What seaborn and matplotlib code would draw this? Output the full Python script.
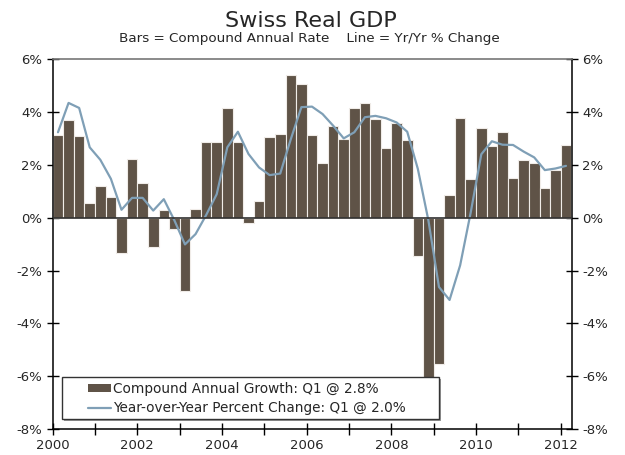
import numpy as np
import pandas as pd
import matplotlib
matplotlib.use("Agg")
import matplotlib.pyplot as plt
from matplotlib.patches import Rectangle, Patch
from matplotlib.lines import Line2D
import seaborn as sns

sns.set_theme(style="white")
plt.rcParams['font.family'] = ['DejaVu Sans']

# quarterly data, 2000 Q1 .. 2012 Q1
years = list(range(2000, 2013))
bar_vals = [3.14, 3.71, 3.08, 0.56,
            1.18, 0.77, -1.32, 2.22,
            1.32, -1.11, 0.28, -0.43,
            -2.76, 0.34, 2.86, 2.88,
            4.16, 2.85, -0.20, 0.63,
            3.06, 3.15, 5.41, 5.05,
            3.13, 2.05, 3.47, 2.96,
            4.15, 4.32, 3.73, 2.63,
            3.59, 2.94, -1.45, -6.30,
            -5.55, 0.86, 3.78, 1.47,
            3.39, 2.72, 3.25, 1.49,
            2.20, 2.08, 1.13, 1.82,
            2.75]
yoy_vals = [3.23, 4.34, 4.15, 2.66,
            2.19, 1.47, 0.30, 0.75,
            0.75, 0.27, 0.70, -0.10,
            -1.01, -0.62, 0.10, 0.89,
            2.66, 3.25, 2.41, 1.90,
            1.61, 1.67, 2.97, 4.18,
            4.20, 3.92, 3.48, 3.00,
            3.23, 3.80, 3.85, 3.76,
            3.60, 3.25, 1.85, -0.10,
            -2.62, -3.11, -1.80, 0.20,
            2.40, 2.89, 2.76, 2.75,
            2.50, 2.28, 1.80, 1.86,
            1.96]
y_ticks = [6, 4, 2, 0, -2, -4, -6, -8]

n = len(bar_vals)
quarter = np.array([2000 + i / 4 + 0.125 for i in range(n)])
df = pd.DataFrame({"t": quarter, "bars": bar_vals, "yoy": yoy_vals})

bar_color = "#5f5347"
line_color = "#7f9fb6"

fig = plt.figure(figsize=(6.25, 4.55), dpi=100)
ax = fig.add_axes([0.0843, 0.0565, 0.8304, 0.8138])

sns.barplot(data=df, x="t", y="bars", native_scale=True, width=1.0,
            color=bar_color, saturation=1, edgecolor="#f0ece8", linewidth=0.8,
            ax=ax, zorder=2)
sns.lineplot(data=df, x="t", y="yoy", color=line_color, linewidth=1.6,
             ax=ax, zorder=3)
ax.axhline(0, color="#303030", linewidth=1.2, zorder=4)

ax.set_xlim(2000, 2012.26)
ax.set_ylim(-8, 6)
ax.set_xlabel("")
ax.set_ylabel("")

ax.set_xticks(years)
ax.set_xticklabels([str(y) if (y % 2 == 0) else "" for y in years])
ax.set_yticks(y_ticks)
ax.set_yticklabels([f"{v}%" for v in y_ticks])
ax.yaxis.set_ticks_position("both")
ax.xaxis.set_ticks_position("bottom")
ax.tick_params(axis="y", direction="inout", length=9, width=1, color="black",
               labelsize=9.5, labelright=True, pad=3)
ax.tick_params(axis="x", direction="inout", length=8, width=1, color="black",
               labelsize=9.5, pad=3)
ax.grid(False)

for side in ["left", "right", "bottom"]:
    ax.spines[side].set_color("black")
    ax.spines[side].set_linewidth(1.1)
ax.spines["top"].set_color("#777777")
ax.spines["top"].set_linewidth(1.2)

# legend box with shadow
x0, y0, w, h = 0.017, 0.028, 0.727, 0.113
ax.add_patch(Rectangle((x0 + 0.004, y0 - 0.006), w, h, transform=ax.transAxes,
                       facecolor="#9a9a9a", edgecolor="none", zorder=6,
                       clip_on=False))
ax.add_patch(Rectangle((x0, y0), w, h, transform=ax.transAxes,
                       facecolor="white", edgecolor="#333333", linewidth=1,
                       zorder=7, clip_on=False))
handles = [Patch(facecolor=bar_color, edgecolor="none"),
           Line2D([], [], color=line_color, linewidth=1.6)]
labels = ["Compound Annual Growth: Q1 @ 2.8%",
          "Year-over-Year Percent Change: Q1 @ 2.0%"]
leg = ax.legend(handles, labels, loc="lower left",
                bbox_to_anchor=(0.058, 0.024), frameon=False, fontsize=9.8,
                handlelength=1.7, handleheight=0.5, handletextpad=0.15,
                labelspacing=0.35, borderaxespad=0)
leg.set_zorder(8)

fig.text(0.497, 0.953, "Swiss Real GDP", ha="center", va="center", fontsize=16)
fig.text(0.495, 0.916, "Bars = Compound Annual Rate    Line = Yr/Yr % Change",
         ha="center", va="center", fontsize=9.7)

fig.savefig("out.png", dpi=100)
